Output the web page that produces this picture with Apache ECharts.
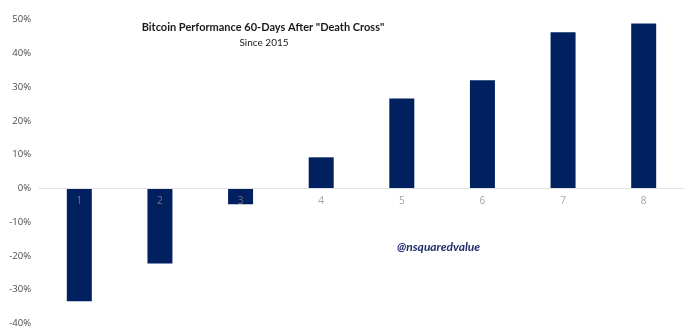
<!DOCTYPE html>
<html>
<head>
<meta charset="utf-8">
<style>
  html, body { margin: 0; padding: 0; background: #ffffff; }
  #chart { width: 700px; height: 332px; }
</style>
<script src="https://cdn.jsdelivr.net/npm/echarts@6/dist/echarts.min.js"></script>
</head>
<body>
<div id="chart"></div>
<script>
// Death-cross occurrences since 2015 and the 60-day return after each (%)
const categories = ['1', '2', '3', '4', '5', '6', '7', '8'];
const returns = [-33.4, -22.2, -4.7, 9.2, 26.6, 32.0, 46.2, 48.8];
const yTicks = { min: -40, max: 50, step: 10 };

const chart = echarts.init(document.getElementById('chart'));
chart.setOption({
  backgroundColor: '#ffffff',
  animation: false,
  title: [
    {
      text: 'Bitcoin Performance 60-Days After "Death Cross"',
      left: 258, top: 17, textAlign: 'center',
      textStyle: { fontFamily: 'Lato', fontWeight: 'bold', fontSize: 11, color: '#1a1a1a' }
    },
    {
      text: 'Since 2015',
      left: 259, top: 33, textAlign: 'center',
      textStyle: { fontFamily: 'Lato', fontWeight: 'normal', fontSize: 10, color: '#1a1a1a' }
    }
  ],
  grid: {
    left: 39, right: 16, top: 19.5, bottom: 8.5,
    containLabel: false,
    outerBoundsMode: 'none'
  },
  xAxis: {
    type: 'category',
    data: categories,
    axisLine: { onZero: true, lineStyle: { color: '#e3e3e3', width: 1 } },
    axisTick: { show: false },
    axisLabel: { show: false },
    z: 5
  },
  yAxis: {
    type: 'value',
    min: yTicks.min, max: yTicks.max, interval: yTicks.step,
    splitLine: { show: false },
    axisLine: { show: false },
    axisTick: { show: false },
    axisLabel: {
      formatter: v => v + '%',
      color: '#4a4a4a', fontFamily: 'Open Sans', fontSize: 9.5, margin: 8
    }
  },
  series: [
    {
      type: 'bar',
      data: returns,
      barWidth: 25,
      itemStyle: { color: '#002060' },
      z: 2
    },
    {
      // category names sitting just under the zero line
      type: 'scatter',
      data: categories.map(c => [c, 0]),
      symbolSize: 0,
      silent: true,
      z: 6,
      label: {
        show: true,
        position: 'bottom',
        distance: 8,
        formatter: p => p.data[0],
        color: '#8c8c8c',
        fontFamily: 'Open Sans',
        fontSize: 10
      }
    }
  ],
  graphic: [{
    type: 'text',
    left: 397, top: 241,
    style: {
      text: '@nsquaredvalue',
      fill: '#1f2f6b',
      font: 'italic bold 12px Lato'
    }
  }]
});
</script>
</body>
</html>
